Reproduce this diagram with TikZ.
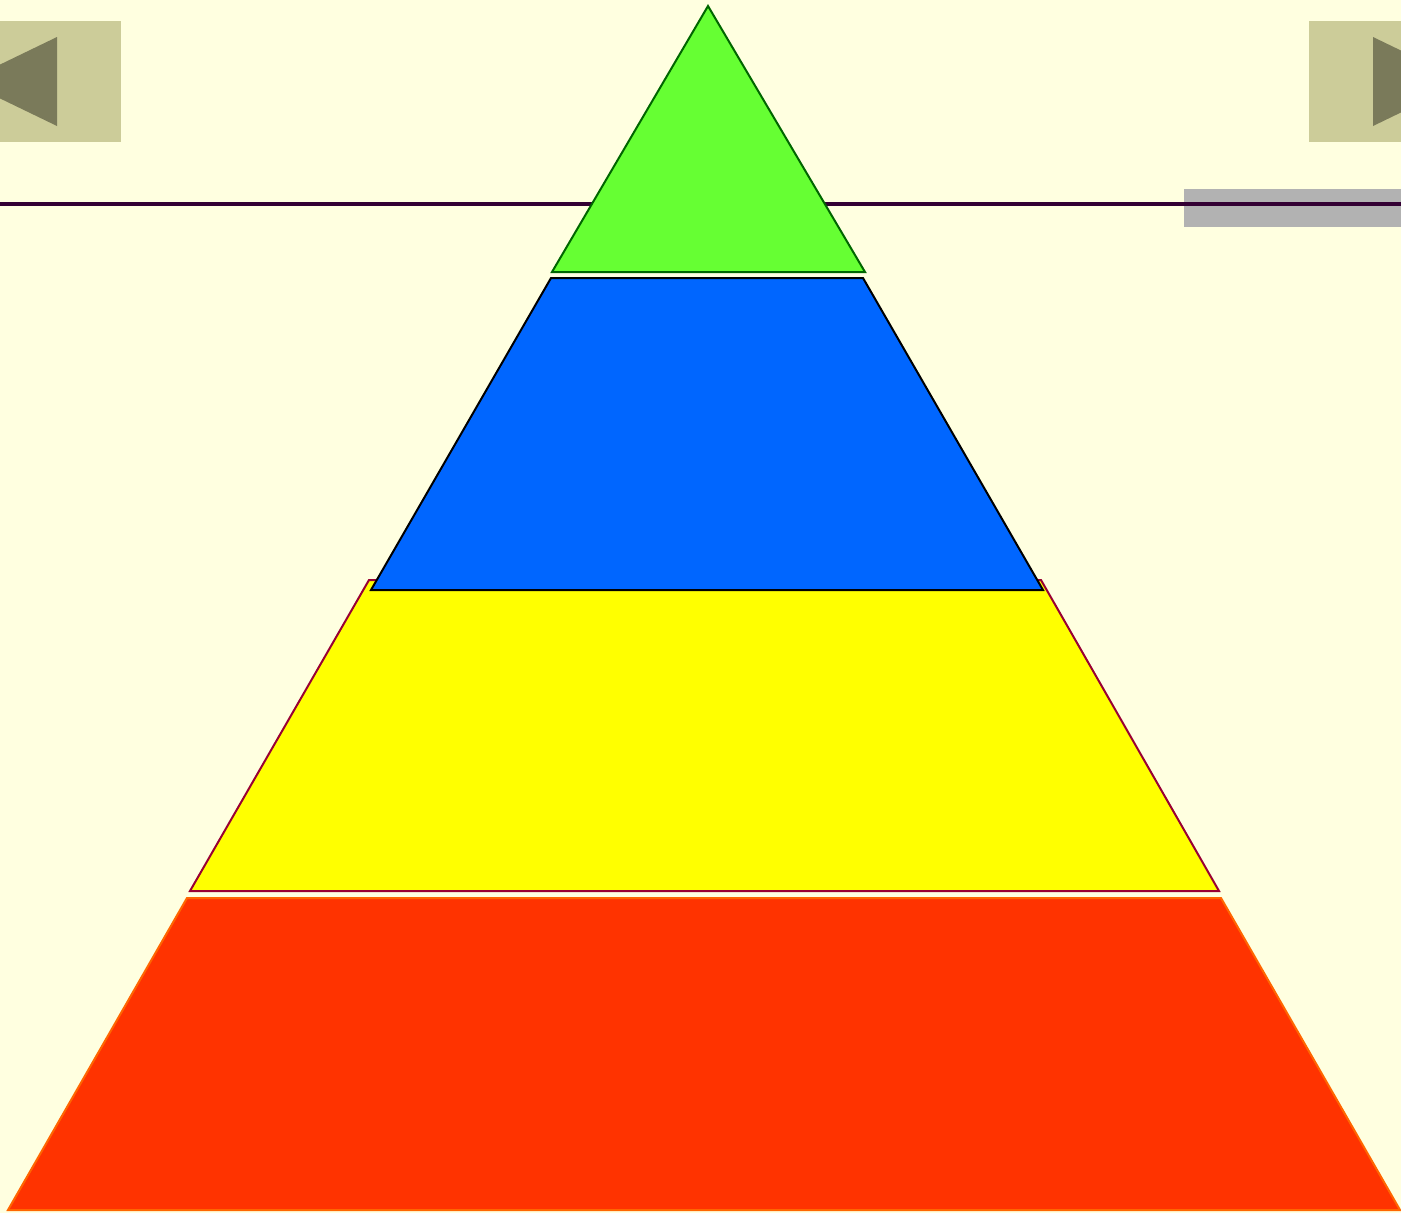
\documentclass[tikz,border=0pt]{standalone}
\usepackage{xcolor}
\usepackage{tikz}
\definecolor{slidebg}{RGB}{255,255,224}
\definecolor{navbox}{RGB}{204,204,153}
\definecolor{navarrow}{RGB}{122,122,90}
\definecolor{rulecol}{RGB}{51,0,51}
\definecolor{barcol}{RGB}{178,178,178}
\definecolor{topgreen}{RGB}{102,255,51}
\definecolor{lvlblue}{RGB}{0,102,255}
\definecolor{lvlyellow}{RGB}{255,255,0}
\definecolor{lvlred}{RGB}{255,51,0}

\begin{document}
\begin{tikzpicture}[x=1pt, y=-1pt,
    level/.style={line width=2pt, line join=miter}]
    \useasboundingbox (0,0) rectangle (1401,1213);
    \fill[slidebg] (0,0) rectangle (1401,1213);
    \clip (0,0) rectangle (1401,1213);

    % navigation buttons
    \fill[navbox] (0,21) rectangle (121,142);
    \fill[navarrow] (57,37) -- (57,126) -- (-35,81.5) -- cycle;
    \fill[navbox] (1309,21) rectangle (1401,142);
    \fill[navarrow] (1373,37) -- (1373,126) -- (1465,81.5) -- cycle;

    % title rule
    \fill[barcol] (1184,189) rectangle (1401,227);
    \draw[rulecol, line width=3.5pt] (0,204) -- (1401,204);

    % pyramid, bottom level first
    \filldraw[level, fill=lvlred, draw=orange!80!red] (187,898) -- (1221,898) -- (1400,1210) -- (8,1210) -- cycle;
    \filldraw[level, fill=lvlyellow, draw=purple!80!black] (369,580) -- (1041,580) -- (1219,891) -- (190,891) -- cycle;
    \filldraw[level, fill=lvlblue, draw=black] (551,278) -- (863,278) -- (1043,590) -- (371,590) -- cycle;
    \filldraw[level, fill=topgreen, draw=green!40!black] (708,6) -- (865,272) -- (552,272) -- cycle;
\end{tikzpicture}
\end{document}
